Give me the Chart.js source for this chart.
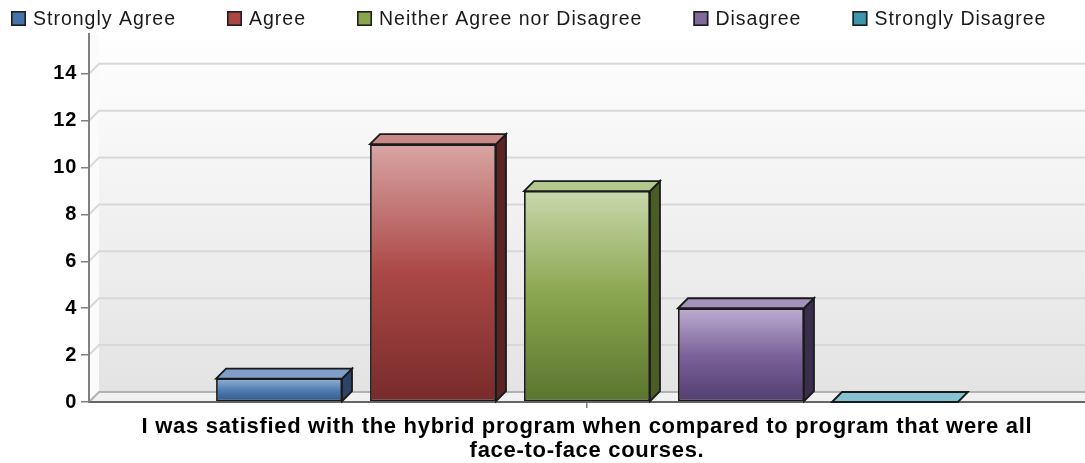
<!DOCTYPE html>
<html>
<head>
<meta charset="utf-8">
<script src="https://cdn.jsdelivr.net/npm/chart.js@4/dist/chart.umd.min.js"></script>
<style>
  html, body { margin: 0; padding: 0; background: #ffffff; }
  canvas { display: block; }
</style>
</head>
<body>
<canvas id="chart" width="1085" height="463"></canvas>
<script>
// ---- data ----
const categories = [[
  'I was satisfied with the hybrid program when compared to program that were all',
  'face-to-face courses.'
]];
const seriesNames = ['Strongly Agree', 'Agree', 'Neither Agree nor Disagree', 'Disagree', 'Strongly Disagree'];
const stronglyAgree = [1];
const agree = [11];
const neither = [9];
const disagree = [4];
const stronglyDisagree = [0];
const yTickValues = [0, 2, 4, 6, 8, 10, 12, 14];

// ---- styling ----
const DEPTH = 10; // 3D offset of the bars and walls, in px
const palette = [
  { key: '#4572A7', light: '#93b1d6', base: '#4f7cb3', dark: '#2f5686', side: '#2b4468', top: '#7f9ec9' },
  { key: '#AA4643', light: '#d8a5a4', base: '#ab4846', dark: '#772b2a', side: '#5b2322', top: '#c98785' },
  { key: '#89A54E', light: '#c8d8ab', base: '#89a54e', dark: '#5a752e', side: '#4a5d25', top: '#b3c78f' },
  { key: '#80699B', light: '#bcadd0', base: '#7b6399', dark: '#523d6f', side: '#3a2d4d', top: '#a392ba' },
  { key: '#3D96AE', light: '#a6d6e2', base: '#3d96ae', dark: '#2a6a7c', side: '#2b5866', top: '#85c3d3' }
];
const seriesValues = [stronglyAgree, agree, neither, disagree, stronglyDisagree];
const FONT = '"Liberation Sans", Arial, sans-serif';
const OUTLINE = '#1a1a1a';

function frontGradient(ctx, i) {
  const chart = ctx.chart;
  if (!chart.chartArea || !chart.scales.y) return palette[i].base;
  const ys = chart.scales.y;
  const v = ctx.parsed ? ctx.parsed.y : 0;
  const yTop = ys.getPixelForValue(v);
  const yBase = ys.getPixelForValue(0);
  if (Math.abs(yBase - yTop) < 1) return palette[i].base;
  const g = chart.ctx.createLinearGradient(0, yTop, 0, yBase);
  g.addColorStop(0, palette[i].light);
  g.addColorStop(0.5, palette[i].base);
  g.addColorStop(1, palette[i].dark);
  return g;
}

const datasets = seriesNames.map((name, i) => ({
  label: name,
  data: seriesValues[i],
  backgroundColor: (c) => frontGradient(c, i),
  borderColor: OUTLINE,
  borderWidth: 1.8,
  borderSkipped: false,
  categoryPercentage: 0.773,
  barPercentage: 0.818
}));

function poly(ctx, pts) {
  ctx.beginPath();
  ctx.moveTo(pts[0][0], pts[0][1]);
  for (let k = 1; k < pts.length; k++) ctx.lineTo(pts[k][0], pts[k][1]);
  ctx.closePath();
}

// Sets the text spacing used by all axis labels
const textSpacing = {
  id: 'textSpacing',
  beforeUpdate(chart) { chart.ctx.letterSpacing = '0.7px'; },
  beforeDraw(chart) { chart.ctx.letterSpacing = '0.7px'; }
};

// Back wall, left wall, floor and the shifted grid lines
const frame3d = {
  id: 'frame3d',
  beforeDraw(chart) {
    const { ctx, chartArea: { left, top, right, bottom }, scales: { y } } = chart;
    ctx.save();
    const wall = ctx.createLinearGradient(0, top, 0, bottom - DEPTH);
    wall.addColorStop(0, '#ffffff');
    wall.addColorStop(1, '#e3e3e3');
    ctx.fillStyle = wall;
    ctx.fillRect(left + DEPTH, top, right - left - DEPTH, bottom - DEPTH - top);

    ctx.fillStyle = '#fbfbfb';
    poly(ctx, [[left, top], [left + DEPTH, top], [left + DEPTH, bottom - DEPTH], [left, bottom]]);
    ctx.fill();

    ctx.fillStyle = '#f1f1f1';
    poly(ctx, [[left, bottom], [left + DEPTH, bottom - DEPTH], [right, bottom - DEPTH], [right, bottom]]);
    ctx.fill();

    ctx.lineWidth = 2;
    ctx.strokeStyle = '#d8d8d8';
    y.ticks.forEach(t => {
      if (t.value <= 0) return;
      const py = y.getPixelForValue(t.value);
      ctx.beginPath();
      ctx.moveTo(left, py);
      ctx.lineTo(left + DEPTH, py - DEPTH);
      ctx.lineTo(right, py - DEPTH);
      ctx.stroke();
    });
    ctx.strokeStyle = '#b2b2b2';
    ctx.beginPath();
    ctx.moveTo(left, bottom);
    ctx.lineTo(left + DEPTH, bottom - DEPTH);
    ctx.lineTo(right, bottom - DEPTH);
    ctx.stroke();
    ctx.restore();
  },
  // top and side faces of every bar
  afterDatasetsDraw(chart) {
    const ctx = chart.ctx;
    ctx.save();
    ctx.lineWidth = 1.8;
    ctx.strokeStyle = OUTLINE;
    ctx.lineJoin = 'miter';
    chart.data.datasets.forEach((ds, i) => {
      const meta = chart.getDatasetMeta(i);
      meta.data.forEach(el => {
        const { x, y, base, width } = el.getProps(['x', 'y', 'base', 'width'], true);
        const l = x - width / 2, r = x + width / 2;
        if (base - y > 0.5) {
          ctx.fillStyle = palette[i].side;
          poly(ctx, [[r, y], [r + DEPTH, y - DEPTH], [r + DEPTH, base - DEPTH], [r, base]]);
          ctx.fill();
          ctx.stroke();
        }
        ctx.fillStyle = palette[i].top;
        poly(ctx, [[l, y], [l + DEPTH, y - DEPTH], [r + DEPTH, y - DEPTH], [r, y]]);
        ctx.fill();
        ctx.stroke();
      });
    });
    ctx.restore();
  }
};

// Legend row across the top
const topLegend = {
  id: 'topLegend',
  afterDraw(chart) {
    const ctx = chart.ctx;
    ctx.save();
    ctx.font = '19.5px ' + FONT;
    ctx.letterSpacing = '1px';
    ctx.textBaseline = 'middle';
    ctx.textAlign = 'left';
    let x = 11;
    const box = 15, cy = 18.5;
    chart.data.datasets.forEach((ds, i) => {
      ctx.fillStyle = palette[i].key;
      ctx.fillRect(x, cy - box / 2, box, box);
      ctx.lineWidth = 1.6;
      ctx.strokeStyle = '#1e1e1e';
      ctx.strokeRect(x + 0.8, cy - box / 2 + 0.8, box - 1.6, box - 1.6);
      ctx.fillStyle = '#1a1a1a';
      ctx.fillText(ds.label, x + box + 7, cy + 1);
      x += box + 7 + ctx.measureText(ds.label).width + 51;
    });
    ctx.restore();
  }
};

new Chart(document.getElementById('chart'), {
  type: 'bar',
  data: { labels: categories, datasets },
  plugins: [textSpacing, frame3d, topLegend],
  options: {
    responsive: false,
    devicePixelRatio: 1,
    animation: false,
    layout: { padding: { top: 34, left: 0, right: 0, bottom: 0 } },
    plugins: { legend: { display: false }, tooltip: { enabled: false } },
    scales: {
      x: {
        afterFit(scale) { scale.height = 61; },
        grid: { drawOnChartArea: false, offset: false, drawTicks: true, tickLength: 6, color: '#808080', lineWidth: 1.5 },
        border: { display: true, color: '#666666', width: 2 },
        ticks: {
          color: '#000000',
          maxRotation: 0,
          autoSkip: false,
          padding: 7,
          font: { family: FONT, size: 22, weight: 'bold', lineHeight: '24px' }
        }
      },
      y: {
        min: 0,
        max: 15.7,
        afterFit(scale) { scale.width = 89; },
        afterBuildTicks(scale) {
          scale.ticks = yTickValues.map(v => ({ value: v }));
        },
        grid: { drawOnChartArea: false, drawTicks: true, tickLength: 8, color: '#808080', lineWidth: 1.5 },
        border: { display: true, color: '#808080', width: 2 },
        ticks: {
          color: '#000000',
          padding: 4,
          font: { family: FONT, size: 20, weight: 'bold' }
        }
      }
    }
  }
});
</script>
</body>
</html>
